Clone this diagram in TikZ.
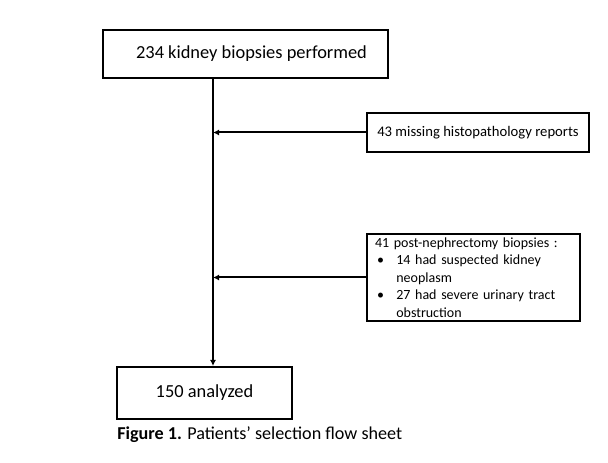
\documentclass[tikz,border=0pt]{standalone}
\usepackage{fontspec}
\setmainfont{Carlito}
\usetikzlibrary{arrows.meta}

\tikzset{
  flowbox/.style={draw, line width=1.5pt, inner sep=0pt, align=center},
  flowarrow/.style={line width=1.5pt, -{Latex[length=4.5pt,width=4.5pt]}}
}

\begin{document}
\begin{tikzpicture}[x=0.75pt,y=0.75pt,yscale=-1,xscale=1]
\useasboundingbox (0,0) rectangle (608,463);

% Boxes
\node (biopsies) [flowbox, minimum width=213.75pt, minimum height=36pt, font=\fontsize{13.8}{17}\selectfont] at (245.5,54) {\hspace*{9pt}234 kidney biopsies performed};
\node (missing) [flowbox, minimum width=166.5pt, minimum height=29.25pt, font=\fontsize{11}{13}\selectfont] at (478,132.5) {43 missing histopathology reports};
\node (nephrectomy) [flowbox, align=left, inner xsep=6pt, inner ysep=1pt, text width=147.75pt, minimum height=65.25pt, font=\fontsize{10.5}{13.1}\selectfont] at (473.5,277.5)
  {41 post-nephrectomy biopsies :\\
   \makebox[16pt][l]{\hspace{1.5pt}\textbullet}14 had suspected kidney\\
   \hspace*{16pt}neoplasm\\
   \makebox[16pt][l]{\hspace{1.5pt}\textbullet}27 had severe urinary tract\\
   \hspace*{16pt}obstruction};
\node (analyzed) [flowbox, minimum width=131.25pt, minimum height=39pt, font=\fontsize{13.8}{17}\selectfont] at (204.5,393) {150 analyzed};

% Caption
\node (caption) [anchor=base west, inner sep=0pt, font=\fontsize{13.6}{17}\selectfont] at (117,440) {\textbf{Figure 1.} Patients’ selection flow sheet};

% Connectors
\coordinate (spine) at (213,0);
\draw [flowarrow] (biopsies.south -| spine) -- (analyzed.north -| spine);
\draw [flowarrow] (missing.west) -- (missing.west -| spine);
\draw [flowarrow] (nephrectomy.west) -- (nephrectomy.west -| spine);
\end{tikzpicture}
\end{document}
